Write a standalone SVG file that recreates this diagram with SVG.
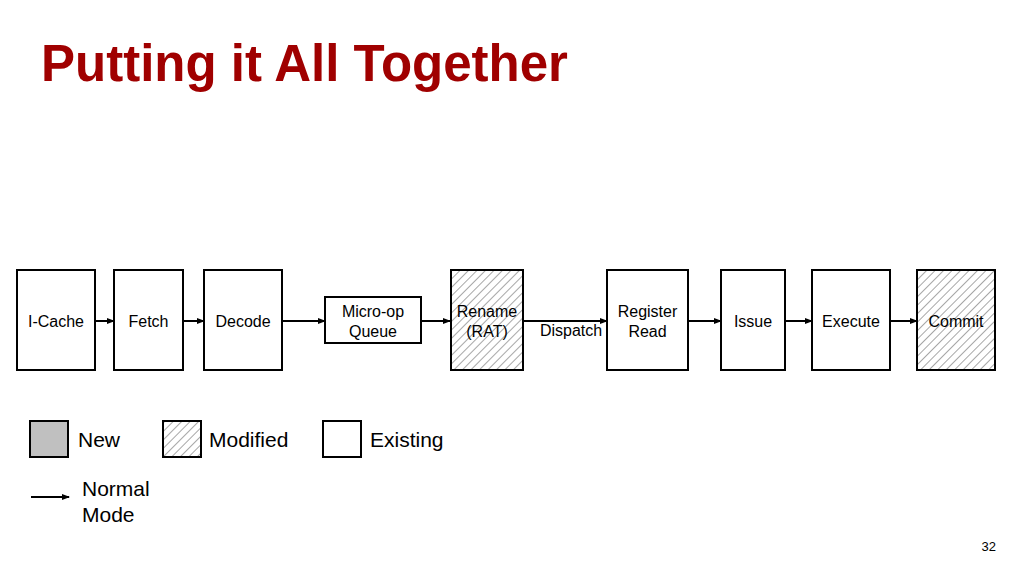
<svg xmlns="http://www.w3.org/2000/svg" width="1024" height="576" viewBox="0 0 1024 576">
<style>
.box{fill:#fff;stroke:#000;stroke-width:2}
.hatch{fill:url(#hatch);stroke:#000;stroke-width:2}
.new{fill:#c0c0c0;stroke:#000;stroke-width:2}
.t{font-family:"Liberation Sans",Arial,sans-serif;font-size:16px;fill:#000;text-anchor:middle}
.lg{font-family:"Liberation Sans",Arial,sans-serif;font-size:21px;fill:#000}
.conn line{stroke:#000;stroke-width:2;marker-end:url(#arr)}
</style>
<defs>
<pattern id="hatch" patternUnits="userSpaceOnUse" width="6" height="6" patternTransform="rotate(45)">
<rect width="6" height="6" fill="#fff"/>
<line x1="0" y1="0" x2="0" y2="6" stroke="#8a8a8a" stroke-width="1.5"/>
</pattern>
<marker id="arr" markerWidth="8" markerHeight="6" refX="7" refY="3" orient="auto" markerUnits="userSpaceOnUse">
<path d="M0,0 L8,3 L0,6 Z" fill="#000"/>
</marker>
</defs>
<rect width="1024" height="576" fill="#fff"/>
<text x="41" y="81" font-family="Liberation Sans,Arial,sans-serif" font-weight="bold" font-size="51" fill="#a00000">Putting it All Together</text>

<g class="conn">
<line x1="95" y1="321" x2="114" y2="321"/>
<line x1="183" y1="321" x2="204" y2="321"/>
<line x1="282" y1="321" x2="325" y2="321"/>
<line x1="421" y1="321" x2="450" y2="321"/>
<line x1="523" y1="321" x2="607" y2="321"/>
<line x1="688" y1="321" x2="721" y2="321"/>
<line x1="785" y1="321" x2="812" y2="321"/>
<line x1="890" y1="321" x2="917" y2="321"/>
</g>

<g id="icache"><rect class="box" x="17" y="270" width="78" height="100"/><text class="t" x="56" y="327">I-Cache</text></g>
<g id="fetch"><rect class="box" x="114" y="270" width="69" height="100"/><text class="t" x="148.5" y="327">Fetch</text></g>
<g id="decode"><rect class="box" x="204" y="270" width="78" height="100"/><text class="t" x="243" y="327">Decode</text></g>
<g id="uopq"><rect class="box" x="325" y="297" width="96" height="46"/><text class="t" x="373" y="317" font-size="15">Micro-op</text><text class="t" x="373" y="337" font-size="15">Queue</text></g>
<g id="rename"><rect class="hatch" x="451" y="270" width="72" height="100"/><text class="t" x="487" y="317">Rename</text><text class="t" x="487" y="337">(RAT)</text></g>
<text class="t" x="571" y="336">Dispatch</text>
<g id="regread"><rect class="box" x="607" y="270" width="81" height="100"/><text class="t" x="647.5" y="317">Register</text><text class="t" x="647.5" y="337">Read</text></g>
<g id="issue"><rect class="box" x="721" y="270" width="64" height="100"/><text class="t" x="753" y="327">Issue</text></g>
<g id="execute"><rect class="box" x="812" y="270" width="78" height="100"/><text class="t" x="851" y="327">Execute</text></g>
<g id="commit"><rect class="hatch" x="917" y="270" width="78" height="100"/><text class="t" x="956" y="327">Commit</text></g>

<g id="legend">
<rect class="new" x="30" y="421" width="38" height="36"/><text class="lg" x="78" y="447">New</text>
<rect class="hatch" x="163" y="421" width="38" height="36"/><text class="lg" x="209" y="447">Modified</text>
<rect class="box" x="323" y="421" width="38" height="36"/><text class="lg" x="370" y="447">Existing</text>
<line x1="31" y1="497" x2="69" y2="497" stroke="#000" stroke-width="2" marker-end="url(#arr)"/>
<text class="lg" x="82" y="496">Normal</text>
<text class="lg" x="82" y="522">Mode</text>
</g>
<text x="996" y="551" font-family="Liberation Sans,Arial,sans-serif" font-size="13" text-anchor="end" fill="#000">32</text>
</svg>
